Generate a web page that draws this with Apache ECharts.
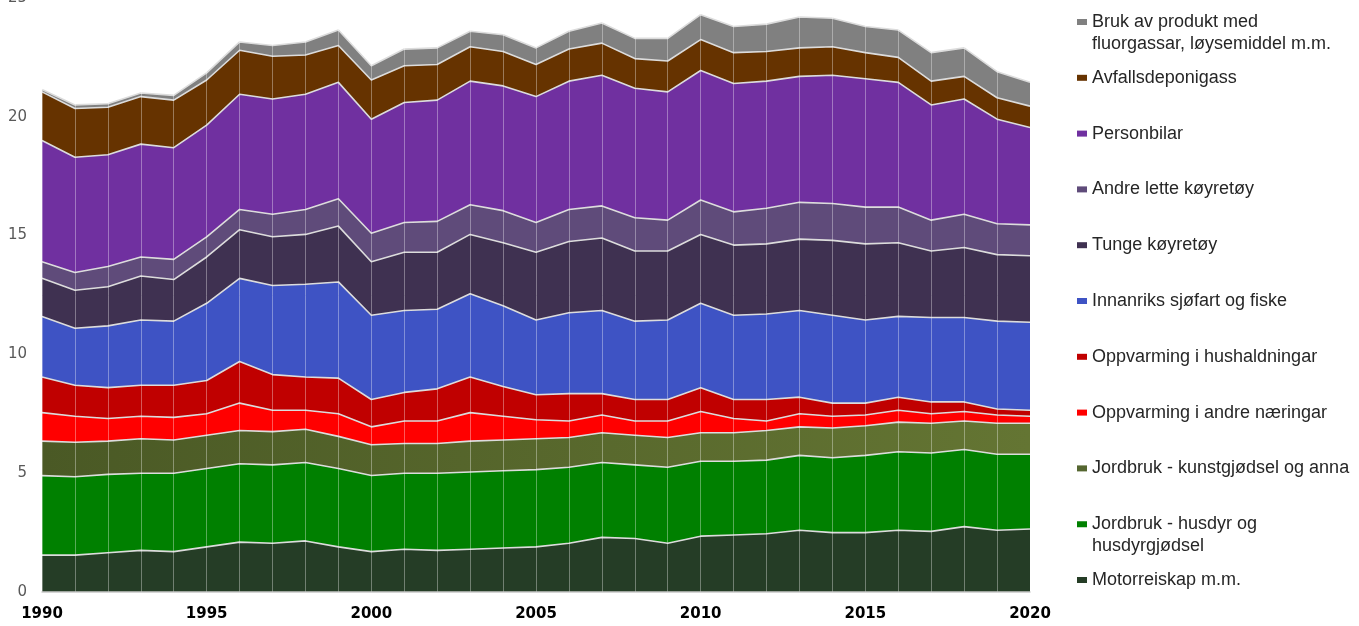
<!DOCTYPE html>
<html>
<head>
<meta charset="utf-8">
<script src="https://cdn.jsdelivr.net/npm/echarts@6/dist/echarts.min.js"></script>
<style>html,body{margin:0;padding:0;background:#fff}#c{width:1359px;height:626px}</style>
</head>
<body>
<div id="c"></div>
<script>
const years = [];
for (let y = 1990; y <= 2020; y++) years.push(String(y));

const motorreiskap = [1.55,1.55,1.65,1.75,1.7,1.9,2.1,2.05,2.15,1.9,1.7,1.8,1.75,1.8,1.85,1.9,2.05,2.3,2.25,2.05,2.35,2.4,2.45,2.6,2.5,2.5,2.6,2.55,2.75,2.6,2.65];
const husdyr = [3.35,3.3,3.3,3.25,3.3,3.3,3.3,3.3,3.3,3.3,3.2,3.2,3.25,3.25,3.25,3.25,3.2,3.15,3.1,3.2,3.15,3.1,3.1,3.15,3.15,3.25,3.3,3.3,3.25,3.2,3.15];
const kunstgjodsel = [1.45,1.45,1.4,1.45,1.4,1.4,1.4,1.4,1.4,1.35,1.3,1.25,1.25,1.3,1.3,1.3,1.25,1.25,1.25,1.25,1.2,1.2,1.25,1.2,1.25,1.25,1.25,1.25,1.2,1.3,1.3];
const andreNaeringar = [1.2,1.1,0.95,0.95,0.95,0.9,1.15,0.9,0.8,0.95,0.75,0.95,0.95,1.2,1.0,0.8,0.7,0.75,0.6,0.7,0.9,0.6,0.4,0.55,0.5,0.45,0.5,0.4,0.4,0.35,0.3];
const hushaldningar = [1.5,1.3,1.3,1.3,1.35,1.4,1.75,1.5,1.4,1.5,1.15,1.2,1.35,1.5,1.25,1.05,1.15,0.9,0.9,0.9,1.0,0.8,0.9,0.7,0.55,0.5,0.55,0.5,0.4,0.25,0.25];
const sjofart = [2.55,2.4,2.6,2.75,2.7,3.25,3.5,3.75,3.9,4.05,3.55,3.45,3.35,3.5,3.4,3.15,3.4,3.5,3.3,3.35,3.55,3.55,3.6,3.65,3.7,3.5,3.4,3.55,3.55,3.7,3.7];
const tunge = [1.6,1.6,1.65,1.85,1.75,1.95,2.05,2.05,2.1,2.35,2.25,2.45,2.4,2.5,2.65,2.85,3.0,3.05,2.95,2.9,2.9,2.95,2.95,3.0,3.15,3.2,3.1,2.8,2.95,2.8,2.8];
const andreLette = [0.7,0.75,0.85,0.8,0.85,0.85,0.85,0.95,1.05,1.15,1.2,1.25,1.3,1.25,1.35,1.25,1.35,1.35,1.4,1.3,1.45,1.4,1.5,1.55,1.55,1.55,1.5,1.3,1.4,1.3,1.3];
const personbilar = [5.1,4.85,4.7,4.75,4.7,4.7,4.85,4.85,4.85,4.9,4.8,5.05,5.1,5.2,5.25,5.3,5.4,5.5,5.45,5.4,5.45,5.4,5.35,5.3,5.4,5.4,5.25,4.85,4.85,4.4,4.1];
const avfall = [2.05,2.05,2.0,2.0,2.0,1.9,1.85,1.8,1.65,1.55,1.65,1.55,1.5,1.45,1.45,1.35,1.35,1.35,1.25,1.3,1.3,1.3,1.25,1.2,1.2,1.1,1.05,1.0,0.95,0.9,0.9];
const fluorgass = [0.1,0.15,0.15,0.15,0.2,0.3,0.35,0.45,0.55,0.65,0.6,0.7,0.7,0.65,0.7,0.7,0.75,0.85,0.85,0.95,1.05,1.1,1.15,1.3,1.2,1.1,1.15,1.2,1.2,1.1,1.0];

const yTicks = [0, 5, 10, 15, 20, 25];

const seriesDefs = [
  {name: 'Motorreiskap m.m.', data: motorreiskap, color: '#253d26'},
  {name: 'Jordbruk - husdyr og\nhusdyrgjødsel', data: husdyr, color: '#008000', two: true},
  {name: 'Jordbruk - kunstgjødsel og anna', data: kunstgjodsel, color: '#556630',
    area: new echarts.graphic.LinearGradient(0, 0, 1, 0, [{offset: 0, color: '#4a5925'}, {offset: 1, color: '#647533'}])},
  {name: 'Oppvarming i andre næringar', data: andreNaeringar, color: '#ff0000'},
  {name: 'Oppvarming i hushaldningar', data: hushaldningar, color: '#c00000'},
  {name: 'Innanriks sjøfart og fiske', data: sjofart, color: '#3e53c4'},
  {name: 'Tunge køyretøy', data: tunge, color: '#3f3151'},
  {name: 'Andre lette køyretøy', data: andreLette, color: '#5f4b7a'},
  {name: 'Personbilar', data: personbilar, color: '#7030a0'},
  {name: 'Avfallsdeponigass', data: avfall, color: '#663300'},
  {name: 'Bruk av produkt med\nfluorgassar, løysemiddel m.m.', data: fluorgass, color: '#808080', two: true}
];

const series = seriesDefs.map(d => ({
  name: d.name,
  type: 'line',
  stack: 'total',
  data: d.data,
  showSymbol: false,
  symbol: 'none',
  color: d.color,
  itemStyle: {color: d.color},
  lineStyle: {color: '#dcdcdc', width: 1.6},
  areaStyle: {color: d.area || d.color, opacity: 1},
  emphasis: {disabled: true},
  animation: false
}));

const legends = [];
const order = seriesDefs.slice().reverse();
order.forEach((d, i) => {
  const center = 22 + i * 55.8;
  legends.push({
    data: [{name: d.name, icon: d.two ? 'path://M0,0h10v6h-10z M0,27.99h0.01v0.01h-0.01z' : 'rect'}],
    orient: 'vertical',
    left: 1077,
    top: center - 11,
    padding: 0,
    itemWidth: 10,
    itemHeight: d.two ? 28 : 6,
    itemGap: 0,
    selectedMode: false,
    itemStyle: {borderWidth: 0},
    textStyle: {fontFamily: 'Liberation Sans', fontSize: 18, color: '#262626', lineHeight: 22}
  });
});

const chart = echarts.init(document.getElementById('c'), null, {renderer: 'canvas'});
chart.setOption({
  animation: false,
  backgroundColor: '#ffffff',
  grid: {left: 42, right: 329, top: -2, bottom: 34, containLabel: false, outerBoundsMode: 'none'},
  legend: legends,
  xAxis: {
    type: 'category',
    data: years,
    boundaryGap: false,
    z: 10,
    axisLine: {show: true, lineStyle: {color: '#c8c8c8', width: 1.5}},
    axisTick: {show: false},
    axisLabel: {interval: 4, margin: 15, fontFamily: 'DejaVu Sans', fontWeight: 'bold', fontSize: 15, color: '#000'},
    splitLine: {show: true, interval: 0, lineStyle: {color: 'rgba(255,255,255,0.35)', width: 1}}
  },
  yAxis: {
    type: 'value',
    min: yTicks[0],
    max: yTicks[yTicks.length - 1],
    interval: 5,
    axisLine: {show: false},
    axisTick: {show: false},
    splitLine: {show: false},
    axisLabel: {margin: 15, fontFamily: 'DejaVu Sans', fontSize: 15, color: '#595959'}
  },
  series: series
});
</script>
</body>
</html>
